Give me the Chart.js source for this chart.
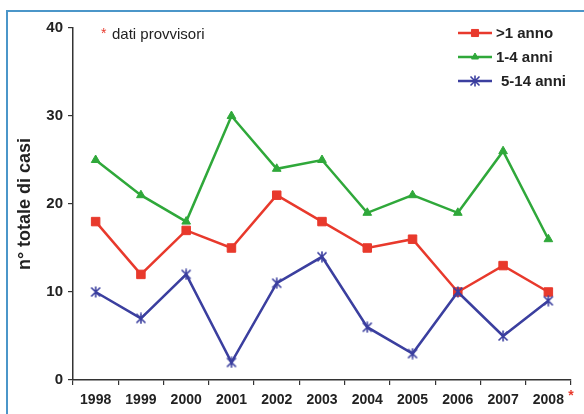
<!DOCTYPE html>
<html>
<head>
<meta charset="utf-8">
<script src="https://cdn.jsdelivr.net/npm/chart.js@4"></script>
<style>
  html, body { margin: 0; padding: 0; background: #fff; }
  #wrap { width: 584px; height: 414px; position: relative; }
</style>
</head>
<body>
<div id="wrap"><canvas id="c" width="584" height="414"></canvas></div>
<script>
// Anni di rilevazione (2008: dati provvisori)
const anni = ['1998', '1999', '2000', '2001', '2002', '2003', '2004', '2005', '2006', '2007', '2008'];

// Numero totale di casi per fascia d'età
const casiMeno1 = [18, 12, 17, 15, 21, 18, 15, 16, 10, 13, 10];
const casi1a4   = [25, 21, 18, 30, 24, 25, 19, 21, 19, 26, 16];
const casi5a14  = [10, 7, 12, 2, 11, 14, 6, 3, 10, 5, 9];

const etichetteSerie = ['>1 anno', '1-4 anni', '5-14 anni'];
const valoriAsseY = [0, 10, 20, 30, 40];

const ROSSO = '#e8392c';
const VERDE = '#2fa83a';
const BLU = '#3b3f9f';
const FONT = '"Liberation Sans", Arial, Helvetica, sans-serif';

// Marcatore ad asterisco (X con tratto verticale)
function marcatoreAsterisco(colore) {
  const c = document.createElement('canvas');
  c.width = 12; c.height = 12;
  const g = c.getContext('2d');
  g.strokeStyle = colore;
  g.lineWidth = 1.6;
  g.beginPath();
  g.moveTo(1.5, 1.5); g.lineTo(10.5, 10.5);
  g.moveTo(10.5, 1.5); g.lineTo(1.5, 10.5);
  g.moveTo(6, 0.5); g.lineTo(6, 11.5);
  g.stroke();
  return c;
}
const asteriscoBlu = marcatoreAsterisco(BLU);

// Cornice azzurra, legenda e note testuali
const decorazioni = {
  id: 'decorazioni',
  beforeDraw(chart) {
    const ctx = chart.ctx;
    ctx.save();
    ctx.fillStyle = '#fff';
    ctx.fillRect(0, 0, chart.width, chart.height);
    ctx.strokeStyle = '#4b96c9';
    ctx.lineWidth = 2;
    ctx.beginPath();
    ctx.moveTo(7, chart.height);
    ctx.lineTo(7, 11);
    ctx.lineTo(chart.width, 11);
    ctx.stroke();
    ctx.restore();
  },
  afterDraw(chart) {
    const ctx = chart.ctx;
    ctx.save();
    // nota "* dati provvisori"
    ctx.fillStyle = ROSSO;
    ctx.font = '14px ' + FONT;
    ctx.textBaseline = 'alphabetic';
    ctx.fillText('*', 101, 38);
    ctx.fillStyle = '#222';
    ctx.font = '15px ' + FONT;
    ctx.fillText('dati provvisori', 112, 39);

    // asterisco accanto al 2008
    const xs = chart.scales.x;
    const x2008 = xs.getPixelForValue(anni.length - 1);
    ctx.fillStyle = ROSSO;
    ctx.font = 'bold 14px ' + FONT;
    ctx.fillText('*', x2008 + 20, 400);

    // legenda
    const righe = [33, 57, 81];
    const testoX = [496, 496, 501];
    chart.data.datasets.forEach((ds, i) => {
      const y = righe[i];
      ctx.strokeStyle = ds.borderColor;
      ctx.lineWidth = 2.5;
      ctx.beginPath();
      ctx.moveTo(458, y);
      ctx.lineTo(492, y);
      ctx.stroke();
      ctx.fillStyle = ds.backgroundColor;
      ctx.strokeStyle = ds.borderColor;
      ctx.lineWidth = 1;
      Chart.helpers.drawPoint(ctx, {
        pointStyle: ds.pointStyle,
        radius: ds.pointRadius - 1,
        rotation: 0,
        borderWidth: 1
      }, 475, y);
      ctx.fillStyle = '#222';
      ctx.font = 'bold 15px ' + FONT;
      ctx.textBaseline = 'middle';
      ctx.fillText(ds.label, testoX[i], y + 1);
    });
    ctx.restore();
  }
};

new Chart(document.getElementById('c'), {
  type: 'line',
  data: {
    labels: anni,
    datasets: [
      {
        label: etichetteSerie[0],
        data: casiMeno1,
        borderColor: ROSSO,
        backgroundColor: ROSSO,
        borderWidth: 2.5,
        pointStyle: 'rect',
        pointRadius: 6,
        pointBorderWidth: 1,
        tension: 0,
        order: 3
      },
      {
        label: etichetteSerie[1],
        data: casi1a4,
        borderColor: VERDE,
        backgroundColor: VERDE,
        borderWidth: 2.5,
        pointStyle: 'triangle',
        pointRadius: 5,
        pointBorderWidth: 1,
        tension: 0,
        order: 2
      },
      {
        label: etichetteSerie[2],
        data: casi5a14,
        borderColor: BLU,
        backgroundColor: BLU,
        borderWidth: 2.5,
        pointStyle: asteriscoBlu,
        pointRadius: 6,
        pointBorderWidth: 1.5,
        tension: 0,
        order: 1
      }
    ]
  },
  options: {
    responsive: false,
    animation: false,
    layout: { padding: { top: 28, right: 13, left: 0, bottom: 0 } },
    plugins: {
      legend: { display: false },
      tooltip: { enabled: false },
      title: { display: false }
    },
    scales: {
      x: {
        offset: true,
        grid: {
          offset: true,
          drawOnChartArea: false,
          drawTicks: true,
          tickLength: 5,
          color: '#333',
          lineWidth: 1.2
        },
        border: { display: true, color: '#333', width: 1.5 },
        ticks: {
          color: '#222',
          font: { family: FONT, size: 14, weight: 'bold' },
          padding: 7,
          maxRotation: 0,
          autoSkip: false
        },
        afterFit(scale) { scale.height = 34; scale.paddingLeft = 0; scale.paddingRight = 0; }
      },
      y: {
        min: 0,
        max: 40,
        afterBuildTicks(scale) { scale.ticks = valoriAsseY.map(v => ({ value: v })); },
        grid: {
          drawOnChartArea: false,
          drawTicks: true,
          tickLength: 5,
          color: '#333',
          lineWidth: 1.2
        },
        border: { display: true, color: '#333', width: 1.5 },
        ticks: {
          color: '#222',
          font: { family: FONT, size: 15, weight: 'bold' },
          padding: 5
        },
        title: {
          display: true,
          text: 'n° totale di casi',
          color: '#222',
          font: { family: FONT, size: 18, weight: 'bold' },
          padding: { top: 14, bottom: 0 }
        },
        afterFit(scale) { scale.width = 73; }
      }
    }
  },
  plugins: [decorazioni]
});
</script>
</body>
</html>
